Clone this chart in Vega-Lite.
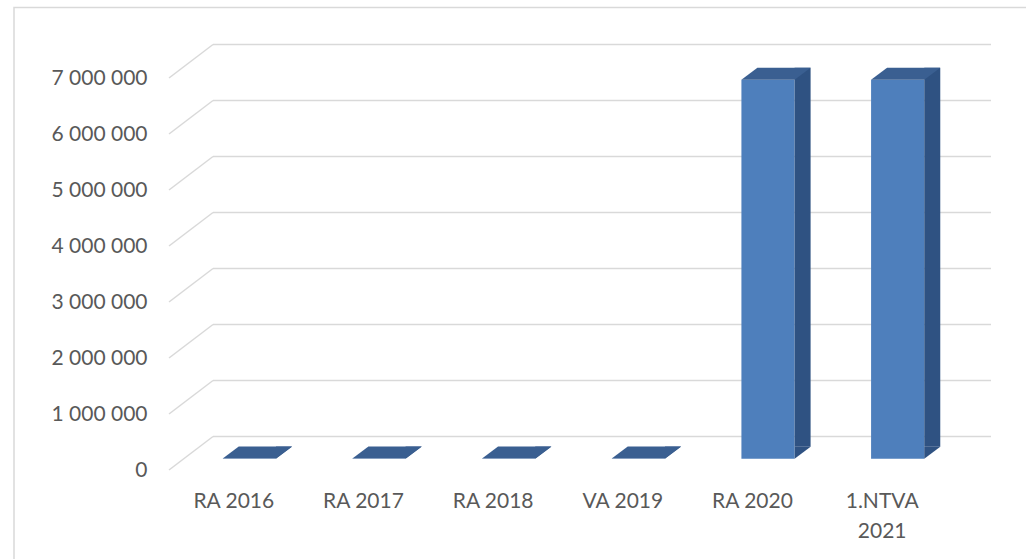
{
  "$schema": "https://vega.github.io/schema/vega-lite/v6.json",
  "width": 778,
  "height": 392,
  "autosize": "none",
  "padding": {"left": 169, "top": 78, "right": 79, "bottom": 89},
  "background": "white",
  "config": {
    "view": {"stroke": null},
    "locale": {"number": {"decimal": ",", "thousands": " ", "grouping": [3], "currency": ["", ""]}}
  },
  "datasets": {
    "bars": [
      {"label": "RA 2016", "value": 5000},
      {"label": "RA 2017", "value": 5000},
      {"label": "RA 2018", "value": 5000},
      {"label": "VA 2019", "value": 5000},
      {"label": "RA 2020", "value": 6770000},
      {"label": "1.NTVA 2021", "value": 6770000}
    ],
    "grid": [
      {"g": 0}, {"g": 1000000}, {"g": 2000000}, {"g": 3000000},
      {"g": 4000000}, {"g": 5000000}, {"g": 6000000}, {"g": 7000000}
    ]
  },
  "encoding": {
    "x": {
      "field": "label", "type": "nominal", "sort": null,
      "scale": {"domain": ["RA 2016", "RA 2017", "RA 2018", "VA 2019", "RA 2020", "1.NTVA 2021"],
                "paddingInner": 0, "paddingOuter": 0},
      "axis": {
        "title": null, "domain": false, "ticks": false, "labelAngle": 0,
        "labelFont": "Lato", "labelFontSize": 21, "labelColor": "#595959",
        "labelPadding": 20, "labelLineHeight": 30,
        "labelExpr": "datum.label === '1.NTVA 2021' ? ['1.NTVA', '2021'] : datum.label"
      }
    },
    "y": {
      "field": "value", "type": "quantitative",
      "scale": {"domain": [0, 7000000], "nice": false},
      "axis": {
        "title": null, "domain": false, "ticks": false, "grid": false,
        "values": [0, 1000000, 2000000, 3000000, 4000000, 5000000, 6000000, 7000000],
        "format": ",d",
        "labelFont": "Lato", "labelFontSize": 21, "labelColor": "#595959",
        "labelPadding": 22
      }
    }
  },
  "layer": [
    {
      "data": {"name": "grid"},
      "transform": [{"filter": "datum.g === 7000000"}],
      "mark": {"type": "rect", "fill": "transparent", "stroke": "#D9D9D9", "strokeWidth": 1.5,
               "xOffset": -155, "x2Offset": 100, "yOffset": -70.5, "y2Offset": 100},
      "encoding": {
        "x": {"datum": "RA 2016", "bandPosition": 0},
        "x2": {"datum": "1.NTVA 2021", "bandPosition": 1},
        "y": {"field": "g", "type": "quantitative"},
        "y2": {"datum": 0}
      }
    },
    {
      "data": {"name": "grid"},
      "mark": {"type": "rule", "color": "#D9D9D9", "strokeWidth": 1.5,
               "xOffset": 44, "x2Offset": 44, "yOffset": -33.5, "y2Offset": -33.5},
      "encoding": {
        "x": {"datum": "RA 2016", "bandPosition": 0},
        "x2": {"datum": "1.NTVA 2021", "bandPosition": 1},
        "y": {"field": "g", "type": "quantitative"},
        "y2": {"field": "g"}
      }
    },
    {
      "data": {"name": "grid"},
      "mark": {"type": "rule", "color": "#D9D9D9", "strokeWidth": 1.5,
               "x2Offset": 44, "y2Offset": -33.5},
      "encoding": {
        "x": {"datum": "RA 2016", "bandPosition": 0},
        "x2": {"datum": "RA 2016", "bandPosition": 0},
        "y": {"field": "g", "type": "quantitative"},
        "y2": {"field": "g"}
      }
    },
    {
      "data": {"name": "bars"},
      "mark": {"type": "bar", "color": "#4E7FBC", "width": {"band": 0.41},
               "xOffset": 15.5, "yOffset": -11.2, "y2Offset": -11.2}
    },
    {
      "data": {"name": "bars"},
      "mark": {"type": "bar", "color": "#2F5282", "width": 16,
               "xOffset": 50.1, "yOffset": -23.2, "y2Offset": -23.2}
    },
    {
      "data": {"name": "bars"},
      "mark": {"type": "point", "filled": true, "opacity": 1, "size": 10000,
               "color": "#2F5282", "strokeWidth": 0,
               "shape": "M0.532,0 L0.532,-0.24 L0.852,-0.24 Z",
               "xOffset": 15.5, "yOffset": -11.2},
      "encoding": {"y": {"datum": 0}}
    },
    {
      "data": {"name": "bars"},
      "mark": {"type": "point", "filled": true, "opacity": 1, "size": 10000,
               "color": "#3A5F91", "strokeWidth": 0,
               "shape": "M-0.532,0 L0.532,0 L0.852,-0.24 L-0.212,-0.24 Z",
               "xOffset": 15.5, "yOffset": -11.2}
    }
  ]
}
